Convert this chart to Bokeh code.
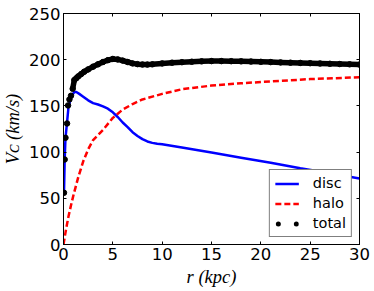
from bokeh.plotting import figure
from bokeh.models import Range1d, FixedTicker, LinearAxis, Legend, LegendItem
from bokeh.embed import file_html
from bokeh.resources import INLINE

# ---- data ----
x_ticks = [0, 5, 10, 15, 20, 25, 30]
x_tick_labels = ["0", "5", "10", "15", "20", "25", "30"]
y_ticks = [0, 50, 100, 150, 200, 250]
y_tick_labels = ["0", "50", "100", "150", "200", "250"]

disc_r = [0.05, 0.12, 0.2, 0.35, 0.5, 0.7, 0.9, 1.1, 1.3, 1.6, 2.0, 2.5, 3.0, 3.5, 4.0,
          4.5, 5.0, 5.5, 6.0, 6.5, 7.0, 7.5, 8.0, 8.5, 9.0, 9.5, 10, 12, 15, 18, 21, 24, 27, 30]
disc_v = [56, 92, 115, 131, 148, 157, 162, 165, 165, 163, 160, 156, 153, 151.5, 149.5,
          147, 143, 138, 132, 127, 121.5, 117.5, 114, 111.5, 110, 109, 108.5, 105, 99.5, 94, 88.5, 82.5, 77, 71.5]

halo_r = [0, 0.25, 0.5, 0.75, 1, 1.5, 2, 2.5, 3, 4, 5, 6, 7, 8, 10, 12, 15, 18, 21, 25, 30]
halo_v = [0, 16, 30, 42, 53, 73, 90, 103, 113, 124, 137, 146, 152, 157, 163, 168, 172, 174.5, 176.5, 179, 181]

total_r = [0.05, 0.12, 0.2, 0.36, 0.46, 0.6, 0.76, 0.93, 1.1, 1.3, 1.5, 1.8, 2.1, 2.5, 3.0, 3.5, 4.0,
           4.5, 5.0, 5.5, 6.0, 6.5, 7.0, 7.5, 8.0, 8.5, 9.0, 10, 11, 12, 13, 14, 15, 16, 17, 18, 19,
           20, 21, 22, 23, 24, 25, 26, 27, 28, 29, 30]
total_v = [56, 92, 115.5, 131, 150.5, 157, 161, 168.5, 178, 180, 182, 184.5, 187, 189.5, 192.5, 195, 197.5,
           199.5, 200.8, 200.3, 199, 197.5, 196, 195.2, 194.8, 194.7, 195, 196, 196.8, 197.3, 197.8, 198.2,
           198.5, 198.5, 198.4, 198.2, 198, 197.7, 197.4, 197.1, 196.8, 196.5, 196.2, 195.9, 195.6, 195.3,
           195, 194.7]

x_label = "r (kpc)"
y_label = "V\u1d04 (km/s)"

# ---- figure ----
p = figure(width=374, height=291, output_backend="svg", toolbar_location=None,
           x_range=Range1d(0, 30), y_range=Range1d(0, 250),
           min_border_left=61, min_border_right=15, min_border_top=13, min_border_bottom=47)
p.xgrid.visible = False
p.ygrid.visible = False
p.outline_line_color = "black"
p.outline_line_width = 1
p.background_fill_color = "white"
p.border_fill_color = "white"

top_axis = LinearAxis()
right_axis = LinearAxis()
p.add_layout(top_axis, "above")
p.add_layout(right_axis, "right")


def style_axis(ax, ticks, labels, show):
    ax.ticker = FixedTicker(ticks=ticks)
    ax.major_tick_in = 3
    ax.major_tick_out = 0
    ax.minor_tick_in = 0
    ax.minor_tick_out = 0
    ax.axis_line_color = "black"
    ax.major_tick_line_color = "black"
    ax.major_label_text_font = "DejaVu Sans"
    ax.major_label_text_font_size = "16.5px"
    ax.major_label_text_color = "black"
    if show:
        ax.major_label_overrides = {t: l for t, l in zip(ticks, labels)}
        ax.major_label_standoff = 3
    else:
        ax.major_label_overrides = {t: "" for t in ticks}
        ax.major_label_standoff = 0


style_axis(p.below[0], x_ticks, x_tick_labels, True)
style_axis(p.left[0], y_ticks, y_tick_labels, True)
style_axis(top_axis, x_ticks, x_tick_labels, False)
style_axis(right_axis, y_ticks, y_tick_labels, False)

for ax, lab in ((p.below[0], x_label), (p.left[0], y_label)):
    ax.axis_label = lab
    ax.axis_label_text_font = "Liberation Serif"
    ax.axis_label_text_font_style = "italic"
    ax.axis_label_text_font_size = "18.5px"
    ax.axis_label_text_color = "black"
p.below[0].axis_label_standoff = 4
p.left[0].axis_label_standoff = 3

# ---- data glyphs ----
r_disc = p.line(disc_r, disc_v, line_color="#0000ff", line_width=2.5)
r_halo = p.line(halo_r, halo_v, line_color="#ff0000", line_width=2.5, line_dash="6 3")

dense_r = [r for r in total_r if r >= 0.9]
dense_v = [v for r, v in zip(total_r, total_v) if r >= 0.9]
p.line(dense_r, dense_v, line_color="black", line_width=5.5)
p.scatter(total_r, total_v, size=5.5, fill_color="black", line_color="black")

# proxy renderer (not drawn) giving the two-dot legend symbol
r_total_leg = p.line(dense_r, dense_v, line_color="black", line_width=5,
                     line_dash="0 18", line_dash_offset=15, line_cap="round")
r_total_leg.visible = False

legend = Legend(items=[LegendItem(label="disc", renderers=[r_disc]),
                       LegendItem(label="halo", renderers=[r_halo]),
                       LegendItem(label="total", renderers=[r_total_leg])],
                location="bottom_right")
legend.margin = 7
legend.padding = 5
legend.spacing = 4
legend.glyph_width = 24
legend.glyph_height = 15
legend.label_height = 15
legend.label_standoff = 14
legend.label_text_font = "DejaVu Sans"
legend.label_text_font_size = "14.5px"
legend.label_text_color = "black"
legend.border_line_color = "black"
legend.border_line_width = 1
legend.background_fill_color = "white"
legend.background_fill_alpha = 1
p.add_layout(legend)

open("out.html", "w").write(file_html(p, INLINE))
